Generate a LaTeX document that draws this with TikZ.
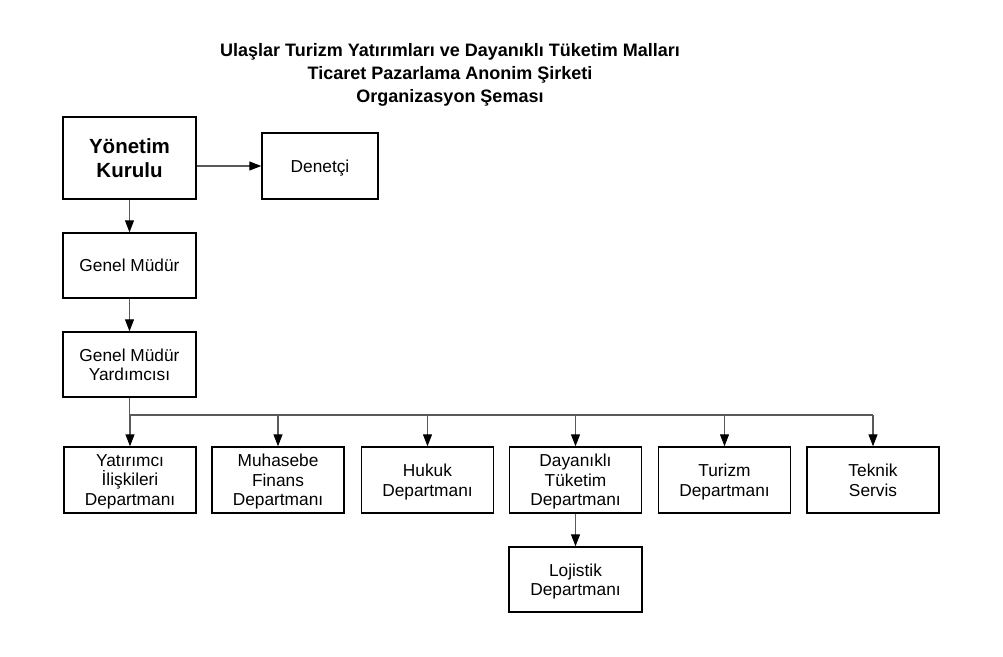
\documentclass[tikz,border=0pt]{standalone}
\usepackage{fontspec}
\setmainfont{Liberation Sans}
\usetikzlibrary{arrows.meta}
\begin{document}
\begin{tikzpicture}[x=1pt,y=-1pt,
  box/.style={draw=black,line width=1.4pt,fill=white,align=center,inner sep=0pt,
    text depth=0pt,font=\fontsize{17.3}{19.5}\selectfont},
  bigbox/.style={box,font=\bfseries\fontsize{20.5}{24}\selectfont},
  conn/.style={draw=black!65,line width=1.1pt},
  arr/.style={conn,-{Triangle[length=12pt,width=9pt,fill=black,color=black]}},
  title/.style={align=center,font=\bfseries\fontsize{18}{23}\selectfont}]
\useasboundingbox (0,0) rectangle (1003,656);
\node[title] (t) at (450,75) {Ulaşlar Turizm Yatırımları ve Dayanıklı Tüketim Malları\\Ticaret Pazarlama Anonim Şirketi\\Organizasyon Şeması};
\node[bigbox,minimum width=133pt,minimum height=82pt] (yk) at (129.5,158) {Yönetim\\Kurulu};
\node[box,minimum width=116pt,minimum height=66pt] (den) at (320,166) {Denetçi};
\node[box,minimum width=133pt,minimum height=65pt] (gm) at (129.5,265.5) {Genel Müdür};
\node[box,minimum width=133pt,minimum height=65pt] (gmy) at (129.5,364.5) {Genel Müdür\\Yardımcısı};
\coordinate (bus) at (0,415);
\node[box,minimum width=132pt,minimum height=66pt] (b1) at (130,480) {Yatırımcı\\İlişkileri\\Departmanı};
\node[box,minimum width=132pt,minimum height=66pt] (b2) at (278,480) {Muhasebe\\Finans\\Departmanı};
\node[box,minimum width=132pt,minimum height=66pt] (b3) at (427.5,480) {Hukuk\\Departmanı};
\node[box,minimum width=132pt,minimum height=66pt] (b4) at (575.5,480) {Dayanıklı\\Tüketim\\Departmanı};
\node[box,minimum width=132pt,minimum height=66pt] (b5) at (724.5,480) {Turizm\\Departmanı};
\node[box,minimum width=132pt,minimum height=66pt] (b6) at (873,480) {Teknik\\Servis};
\node[box,minimum width=133pt,minimum height=65pt] (loj) at (575.5,579.5) {Lojistik\\Departmanı};
\draw[arr] (yk.east |- den) -- (den.west);
\draw[arr] (yk) -- (gm);
\draw[arr] (gm) -- (gmy);
\draw[conn] (gmy.south) -- (gmy.south |- bus);
\draw[conn] (b1.north |- bus) -- (b6.north |- bus);
\foreach \b in {b1,b2,b3,b4,b5,b6} \draw[arr] (\b.north |- bus) -- (\b.north);
\draw[arr] (b4) -- (loj);
\end{tikzpicture}
\end{document}
